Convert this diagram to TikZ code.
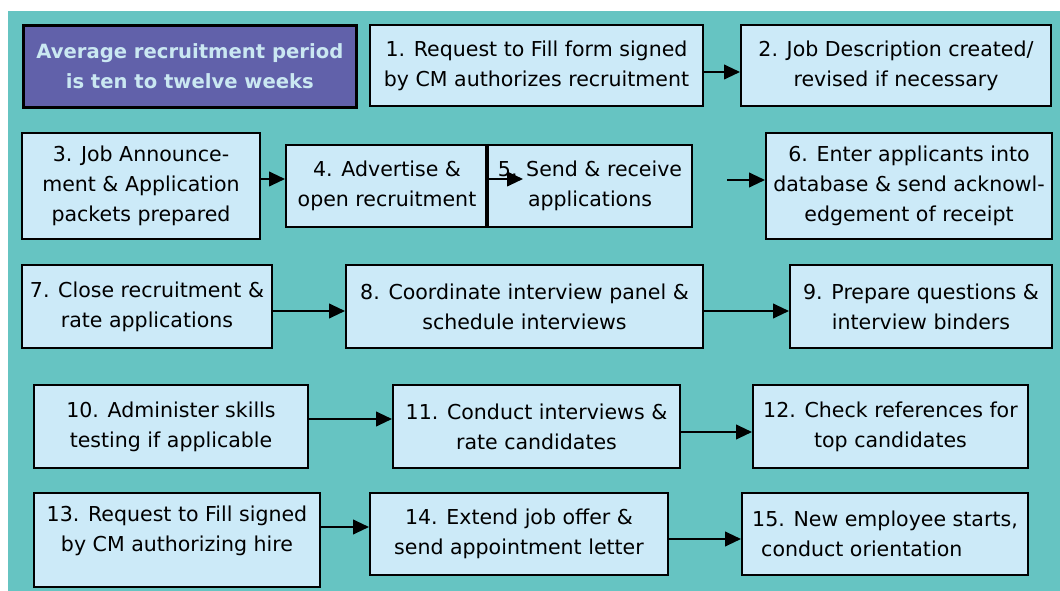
\documentclass[tikz,border=0pt]{standalone}
\usepackage{fontspec}
\setmainfont{DejaVu Sans}
\usetikzlibrary{arrows.meta}
\usetikzlibrary{positioning}
\definecolor{bgteal}{RGB}{102,196,194}
\definecolor{boxblue}{RGB}{204,234,248}
\definecolor{notefill}{RGB}{97,97,170}
\definecolor{notetext}{RGB}{202,232,242}
\begin{document}
\begin{tikzpicture}[x=0.75pt,y=-0.75pt,>={Triangle[length=12pt,width=11pt]},
					line width=1.5pt,font=\fontsize{15.4}{22.5}\selectfont]
					\tikzstyle{stepbox}=[draw,fill=boxblue,align=center,inner sep=0pt,anchor=north west]
					\tikzstyle{notebox}=[draw,line width=2pt,fill=notefill,text=notetext,align=center,
					inner sep=0pt,anchor=north west,font=\fontsize{14.7}{22.5}\selectfont\bfseries]
					\tikzstyle{boxsize}=[minimum width=#1*0.75pt]
					\tikzstyle{boxhigh}=[minimum height=#1*0.75pt]
					
					\useasboundingbox (0,0) rectangle (1060,591);
					\fill[bgteal] (8,11) rectangle (1060,591);
					
					\node[notebox,boxsize=333,boxhigh=82] (note) at (22,24)  {Average recruitment period\\is ten to twelve weeks};
					\node[stepbox,boxsize=333,boxhigh=81] (S_1) at (369,24)  {1. Request to Fill form signed\\by CM authorizes recruitment};
					\node[stepbox,boxsize=310,boxhigh=81] (S_2) at (740,24)  {2. Job Description created/\\revised if necessary};
					\node[stepbox,boxsize=238,boxhigh=106] (S_3) at (21,132) {3. Job Announce-\\ment \& Application\\packets prepared};
					\node[stepbox,boxsize=202,boxhigh=82] (S_4) at (285,144) {4. Advertise \&\\open recruitment};
					\node[stepbox,boxsize=204,boxhigh=82] (S_5) at (487,144) {5. Send \& receive\\applications};
					\node[stepbox,boxsize=286,boxhigh=106] (S_6) at (765,132) {6. Enter applicants into\\database \& send acknowl-\\edgement of receipt};
					\node[stepbox,boxsize=250,boxhigh=83] (S_7) at (21,264)  {7. Close recruitment \&\\rate applications};
					\node[stepbox,boxsize=357,boxhigh=83] (S_8) at (345,264) {8. Coordinate interview panel \&\\schedule interviews};
					\node[stepbox,boxsize=262,boxhigh=83] (S_9) at (789,264) {9. Prepare questions \&\\interview binders};
					\node[stepbox,boxsize=274,boxhigh=83] (S_10) at (33,384) {10. Administer skills\\testing if applicable};
					\node[stepbox,boxsize=287,boxhigh=83] (S_11) at (392,384) {11. Conduct interviews \&\\rate candidates};
					\node[stepbox,boxsize=275,boxhigh=83] (S_12) at (752,384) {12. Check references for\\top candidates};
					\node[stepbox,boxsize=286,boxhigh=94] (S_13) at (33,492) {13. Request to Fill signed\\by CM authorizing hire\\[-5pt]};
					\node[stepbox,boxsize=298,boxhigh=82] (S_14) at (369,492) {14. Extend job offer \&\\send appointment letter};
					\node[stepbox,boxsize=286,boxhigh=82,align=left] (S_15) at (741,492) {15. New employee starts,\\\hspace{6.75pt}conduct orientation};
					
					\draw[line width=2.5pt] (S_5.north west) -- (S_5.south west);
					
					\coordinate (tip_5) at (523,179);
					\coordinate (from_5) at (727,180);
					
					\path[->] (S_1.east |- 0,72)   edge (S_2.west |- 0,72)
					(S_3.east |- 0,179)  edge (S_4.west |- 0,179)
					(S_4.east |- 0,179)  edge (tip_5)
					(from_5)             edge (S_6.west |- 0,180)
					(S_7.east |- 0,311)  edge (S_8.west |- 0,311)
					(S_8.east |- 0,311)  edge (S_9.west |- 0,311)
					(S_10.east |- 0,419) edge (S_11.west |- 0,419)
					(S_11.east |- 0,432) edge (S_12.west |- 0,432)
					(S_13.east |- 0,527) edge (S_14.west |- 0,527)
					(S_14.east |- 0,539) edge (S_15.west |- 0,539)
					;
\end{tikzpicture}
\end{document}
